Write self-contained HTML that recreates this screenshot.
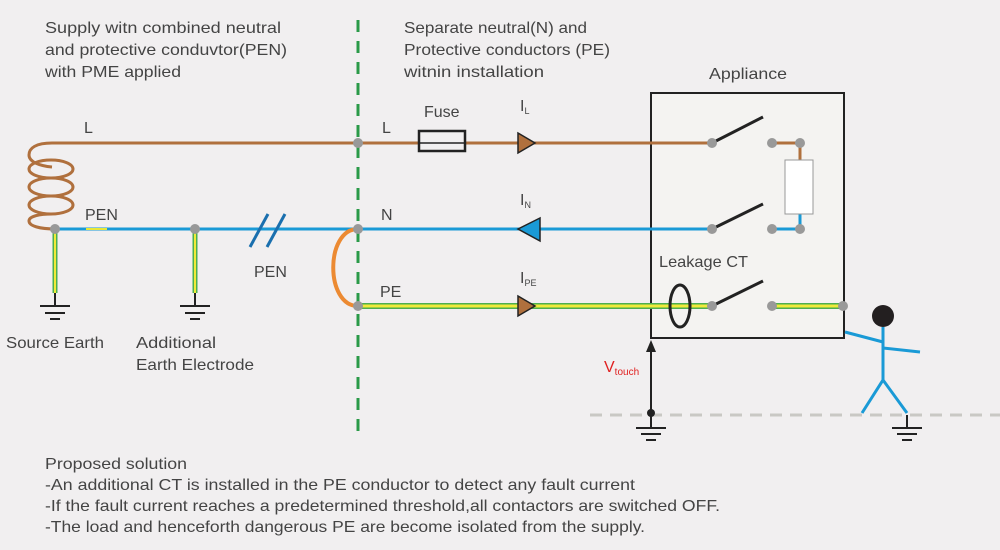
<!DOCTYPE html>
<html><head><meta charset="utf-8"><style>
html,body{margin:0;padding:0;background:#f1eff0;}
svg{display:block;font-family:"Liberation Sans",sans-serif;}
</style></head><body>
<svg width="1000" height="550" viewBox="0 0 1000 550" xmlns="http://www.w3.org/2000/svg">
<rect width="1000" height="550" fill="#f1eff0"/>
<g fill="#444" font-size="16">
<text x="45" y="33" textLength="236" lengthAdjust="spacingAndGlyphs">Supply witn combined neutral</text>
<text x="45" y="55" textLength="242" lengthAdjust="spacingAndGlyphs">and protective conduvtor(PEN)</text>
<text x="45" y="77" textLength="136" lengthAdjust="spacingAndGlyphs">with PME applied</text>
<text x="404" y="33" textLength="183" lengthAdjust="spacingAndGlyphs">Separate neutral(N) and</text>
<text x="404" y="55" textLength="206" lengthAdjust="spacingAndGlyphs">Protective conductors (PE)</text>
<text x="404" y="77" textLength="140" lengthAdjust="spacingAndGlyphs">witnin installation</text>
<text x="709" y="79" textLength="78" lengthAdjust="spacingAndGlyphs">Appliance</text>
</g>
<line x1="358" y1="20" x2="358" y2="435" stroke="#2a9a48" stroke-width="3" stroke-dasharray="12,9"/>
<line x1="590" y1="415" x2="1000" y2="415" stroke="#c9c8c4" stroke-width="3" stroke-dasharray="12,8"/>
<rect x="651" y="93" width="193" height="245" fill="#f4f3f1" stroke="#222" stroke-width="2"/>
<line x1="52" y1="143" x2="712" y2="143" stroke="#b0703d" stroke-width="3"/>
<!-- coil -->
<g fill="none" stroke="#b0703d" stroke-width="3">
<path d="M52,143 C36,143 29,148 29,155 C29,162 40,166 52,167"/>
<ellipse cx="51" cy="169" rx="22" ry="9"/>
<ellipse cx="51" cy="187" rx="22" ry="9"/>
<ellipse cx="51" cy="205" rx="22" ry="9"/>
<path d="M52,214 C40,214 29,216 29,221 C29,226 40,229 55,229"/>
</g>
<line x1="55" y1="229" x2="712" y2="229" stroke="#1a9ad6" stroke-width="3"/>
<line x1="86" y1="229" x2="107" y2="229" stroke="#e8e838" stroke-width="2"/>
<line x1="250" y1="247" x2="268" y2="214" stroke="#1a6fae" stroke-width="3"/>
<line x1="267" y1="247" x2="285" y2="214" stroke="#1a6fae" stroke-width="3"/>
<g>
<line x1="55" y1="229" x2="55" y2="293" stroke="#4caf50" stroke-width="5"/>
<line x1="55" y1="229" x2="55" y2="293" stroke="#f0ea3a" stroke-width="2"/>
<line x1="195" y1="229" x2="195" y2="293" stroke="#4caf50" stroke-width="5"/>
<line x1="195" y1="229" x2="195" y2="293" stroke="#f0ea3a" stroke-width="2"/>
</g>
<g stroke="#222" stroke-width="2">
<line x1="55" y1="293" x2="55" y2="306"/><line x1="40" y1="306" x2="70" y2="306"/><line x1="45" y1="313" x2="65" y2="313"/><line x1="50" y1="319" x2="60" y2="319"/>
<line x1="195" y1="293" x2="195" y2="306"/><line x1="180" y1="306" x2="210" y2="306"/><line x1="185" y1="313" x2="205" y2="313"/><line x1="190" y1="319" x2="200" y2="319"/>
<line x1="651" y1="413" x2="651" y2="428"/><line x1="636" y1="428" x2="666" y2="428"/><line x1="641" y1="434" x2="661" y2="434"/><line x1="646" y1="440" x2="656" y2="440"/>
<line x1="907" y1="415" x2="907" y2="428"/><line x1="892" y1="428" x2="922" y2="428"/><line x1="897" y1="434" x2="917" y2="434"/><line x1="902" y1="440" x2="912" y2="440"/>
</g>
<path d="M358,229 C325,229 325,306 358,306" fill="none" stroke="#ec8a32" stroke-width="4"/>
<line x1="358" y1="306" x2="712" y2="306" stroke="#4caf50" stroke-width="6"/>
<line x1="358" y1="306" x2="712" y2="306" stroke="#f0ea3a" stroke-width="3"/>
<line x1="772" y1="306" x2="844" y2="306" stroke="#4caf50" stroke-width="6"/>
<line x1="772" y1="306" x2="844" y2="306" stroke="#f0ea3a" stroke-width="3"/>
<polyline points="772,143 800,143 800,160" fill="none" stroke="#b0703d" stroke-width="3"/>
<polyline points="800,214 800,229 772,229" fill="none" stroke="#1a9ad6" stroke-width="3"/>
<rect x="785" y="160" width="28" height="54" fill="#fff" stroke="#999" stroke-width="1"/>
<g stroke="#222" stroke-width="3">
<line x1="712" y1="143" x2="763" y2="117"/>
<line x1="712" y1="229" x2="763" y2="204"/>
<line x1="712" y1="306" x2="763" y2="281"/>
</g>
<ellipse cx="680" cy="306" rx="10" ry="21" fill="none" stroke="#222" stroke-width="3"/>
<rect x="419" y="131" width="46" height="20" fill="#f1eff0" stroke="#222" stroke-width="2.5"/>
<line x1="419" y1="143" x2="465" y2="143" stroke="#222" stroke-width="1.5"/>
<polygon points="518,133 535,143 518,153" fill="#b0703d" stroke="#222" stroke-width="1.5"/>
<polygon points="540,218 518,229 540,241" fill="#1a9ad6" stroke="#222" stroke-width="1.5"/>
<polygon points="518,296 535,306 518,316" fill="#b0703d" stroke="#222" stroke-width="1.5"/>
<g fill="#999">
<circle cx="358" cy="143" r="5"/><circle cx="358" cy="229" r="5"/><circle cx="358" cy="306" r="5"/>
<circle cx="55" cy="229" r="5"/><circle cx="195" cy="229" r="5"/>
<circle cx="712" cy="143" r="5"/><circle cx="772" cy="143" r="5"/><circle cx="800" cy="143" r="5"/>
<circle cx="712" cy="229" r="5"/><circle cx="772" cy="229" r="5"/><circle cx="800" cy="229" r="5"/>
<circle cx="712" cy="306" r="5"/><circle cx="772" cy="306" r="5"/><circle cx="843" cy="306" r="5"/>
</g>
<line x1="651" y1="413" x2="651" y2="350" stroke="#222" stroke-width="2"/>
<polygon points="646,352 651,340 656,352" fill="#222"/>
<circle cx="651" cy="413" r="4" fill="#222"/>
<text x="604" y="372" fill="#e02020" font-size="16">V<tspan font-size="10" dy="3">touch</tspan></text>
<circle cx="883" cy="316" r="11" fill="#231f20"/>
<g stroke="#1a9ad6" stroke-width="3" fill="none">
<line x1="883" y1="327" x2="883" y2="380"/>
<line x1="845" y1="332" x2="883" y2="342"/>
<line x1="883" y1="348" x2="920" y2="352"/>
<polyline points="862,413 883,380 907,413"/>
</g>
<g fill="#444" font-size="16">
<text x="84" y="133">L</text>
<text x="382" y="133">L</text>
<text x="85" y="220">PEN</text>
<text x="381" y="220">N</text>
<text x="254" y="277">PEN</text>
<text x="380" y="297">PE</text>
<text x="424" y="117">Fuse</text>
<text x="520" y="111">I<tspan font-size="9" dy="3">L</tspan></text>
<text x="520" y="205">I<tspan font-size="9" dy="3">N</tspan></text>
<text x="520" y="283">I<tspan font-size="9" dy="3">PE</tspan></text>
<text x="659" y="267" textLength="89" lengthAdjust="spacingAndGlyphs">Leakage CT</text>
<text x="6" y="348" textLength="98" lengthAdjust="spacingAndGlyphs">Source Earth</text>
<text x="136" y="348" textLength="80" lengthAdjust="spacingAndGlyphs">Additional</text>
<text x="136" y="370" textLength="118" lengthAdjust="spacingAndGlyphs">Earth Electrode</text>
</g>
<g fill="#444" font-size="16">
<text x="45" y="469" textLength="142" lengthAdjust="spacingAndGlyphs">Proposed solution</text>
<text x="45" y="490" textLength="590" lengthAdjust="spacingAndGlyphs">-An additional CT is installed in the PE conductor to detect any fault current</text>
<text x="45" y="511" textLength="675" lengthAdjust="spacingAndGlyphs">-If the fault current reaches a predetermined threshold,all contactors are switched OFF.</text>
<text x="45" y="532" textLength="600" lengthAdjust="spacingAndGlyphs">-The load and henceforth dangerous PE are become isolated from the supply.</text>
</g>
</svg>
</body></html>
